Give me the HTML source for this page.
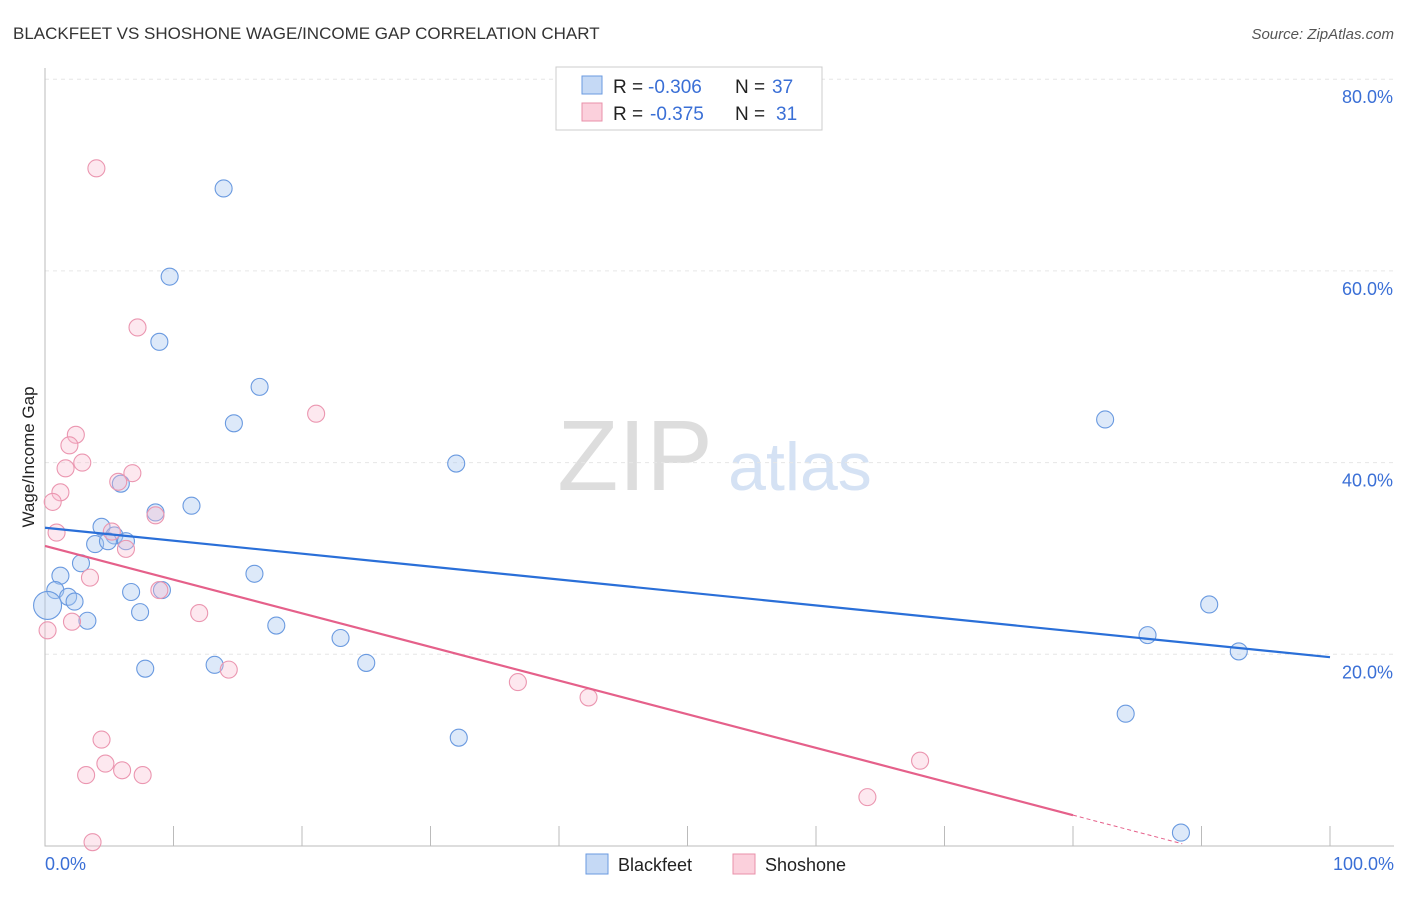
<!DOCTYPE html>
<html><head><meta charset="utf-8"><style>
body{margin:0;background:#fff;font-family:"Liberation Sans",sans-serif}
svg text{font-family:"Liberation Sans",sans-serif}
</style></head><body>
<svg id="c" width="1406" height="892">
<text x="13" y="39" font-size="17" fill="#333">BLACKFEET VS SHOSHONE WAGE/INCOME GAP CORRELATION CHART</text>
<text x="1394" y="39" font-size="15" fill="#555" font-style="italic" text-anchor="end">Source: ZipAtlas.com</text>
<text x="635" y="490" font-size="100" fill="#ddd" text-anchor="middle" font-family="Liberation Serif">ZIP</text>
<text x="800" y="490" font-size="68" fill="#d5e2f4" text-anchor="middle">atlas</text>
<g id="grid"></g><g id="pts"></g><g id="lines"></g>
<text transform="translate(34,457) rotate(-90)" font-size="17" fill="#222" text-anchor="middle">Wage/Income Gap</text>
<text x="45" y="870" font-size="18" fill="#3a6fd6">0.0%</text>
<text x="1394" y="870" font-size="18" fill="#3a6fd6" text-anchor="end">100.0%</text>
<g>
<rect x="556" y="67" width="266" height="63" fill="#fff" stroke="#ccc"/>
<rect x="582" y="76" width="20" height="18" fill="#c5d9f5" stroke="#6a9ae0"/>
<rect x="582" y="103" width="20" height="18" fill="#fbd0dc" stroke="#e890aa"/>
<text x="613" y="93" font-size="19" fill="#222">R =</text>
<text x="648" y="93" font-size="19" fill="#3a6fd6">-0.306</text>
<text x="735" y="93" font-size="19" fill="#222">N =</text>
<text x="772" y="93" font-size="19" fill="#3a6fd6">37</text>
<text x="613" y="120" font-size="19" fill="#222">R =</text>
<text x="650" y="120" font-size="19" fill="#3a6fd6">-0.375</text>
<text x="735" y="120" font-size="19" fill="#222">N =</text>
<text x="776" y="120" font-size="19" fill="#3a6fd6">31</text>
</g>
<g><rect x="586" y="854" width="22" height="20" fill="#c5d9f5" stroke="#6a9ae0"/><text x="618" y="871" font-size="18" fill="#222">Blackfeet</text></g>
<g><rect x="733" y="854" width="22" height="20" fill="#fbd0dc" stroke="#e890aa"/><text x="765" y="871" font-size="18" fill="#222">Shoshone</text></g>
</svg>
<script>
const yTicks=[20,40,60,80];
const xTicks=[0,10,20,30,40,50,60,70,80,90,100];
const blackfeetX=[13.9,9.7,8.9,16.7,14.7,32.0,82.5,5.9,11.4,8.6,4.4,5.4,3.9,4.9,6.3,2.8,1.2,0.8,1.8,2.3,0.2,6.7,9.1,16.3,7.4,3.3,18.0,23.0,7.8,13.2,25.0,32.2,85.8,90.6,92.9,84.1,88.4];
const blackfeetY=[68.6,59.4,52.6,47.9,44.1,39.9,44.5,37.8,35.5,34.8,33.3,32.4,31.5,31.8,31.8,29.5,28.2,26.7,26.0,25.5,25.1,26.5,26.7,28.4,24.4,23.5,23.0,21.7,18.5,18.9,19.1,11.3,22.0,25.2,20.3,13.8,1.4];
const shoshoneX=[4.0,7.2,21.1,2.4,1.9,2.9,1.6,6.8,5.7,1.2,0.6,8.6,5.2,0.9,6.3,3.5,8.9,2.1,12.0,0.2,14.3,36.8,42.3,4.4,4.7,6.0,3.2,7.6,68.1,64.0,3.7];
const shoshoneY=[70.7,54.1,45.1,42.9,41.8,40.0,39.4,38.9,38.0,36.9,35.9,34.5,32.8,32.7,31.0,28.0,26.7,23.4,24.3,22.5,18.4,17.1,15.5,11.1,8.6,7.9,7.4,7.4,8.9,5.1,0.4];
const blueTrend=[33.2,19.7];
const pinkTrend=[31.3,0.351];
const X=v=>45+v*12.85, Y=v=>846-v*9.585;
const NS="http://www.w3.org/2000/svg";
function mk(p,t,a){const e=document.createElementNS(NS,t);for(const k in a)e.setAttribute(k,a[k]);p.appendChild(e);return e;}
const g=document.getElementById('grid');
yTicks.forEach(v=>{
 const l=mk(g,'line',{x1:45,x2:1394,y1:Y(v),y2:Y(v),stroke:'#e6e6e6','stroke-dasharray':'4 4'});
 
 
 const t=mk(g,'text',{x:1393,y:Y(v)+24,'font-size':18,fill:'#3a6fd6','text-anchor':'end'});t.textContent=v.toFixed(1)+'%';
 
 
});
xTicks.forEach(v=>{
 const l=mk(g,'line',{x1:X(v),x2:X(v),y1:826,y2:846,stroke:'#bbb'});
 
 
});
const ax=mk(g,'path',{d:'M45 68 V846 H1394',fill:'none',stroke:'#bbb'});


const pg=document.getElementById('pts');
blackfeetX.forEach((x,i)=>{
 const c=mk(pg,'circle',{cx:X(x),cy:Y(blackfeetY[i]),r:i==20?14:8.5,fill:'rgba(170,200,240,0.4)',stroke:'#6a9ae0','stroke-width':1.1});
 
 
});
shoshoneX.forEach((x,i)=>{
 const c=mk(pg,'circle',{cx:X(x),cy:Y(shoshoneY[i]),r:8.5,fill:'rgba(248,190,208,0.35)',stroke:'#eb96b0','stroke-width':1.1});
 
 
});
const lg=document.getElementById('lines');
const bl=mk(lg,'line',{x1:X(0),y1:Y(blueTrend[0]),x2:X(100),y2:Y(blueTrend[1]),stroke:'#2a6fd8','stroke-width':2.2});


const pf=x=>pinkTrend[0]-pinkTrend[1]*x;
const pl=mk(lg,'line',{x1:X(0),y1:Y(pf(0)),x2:X(80),y2:Y(pf(80)),stroke:'#e5608a','stroke-width':2.2});


const pd=mk(lg,'line',{x1:X(80),y1:Y(pf(80)),x2:X(88.5),y2:Y(pf(88.5)),stroke:'#e5608a','stroke-width':1,'stroke-dasharray':'4 3'});


</script>
</body></html>
